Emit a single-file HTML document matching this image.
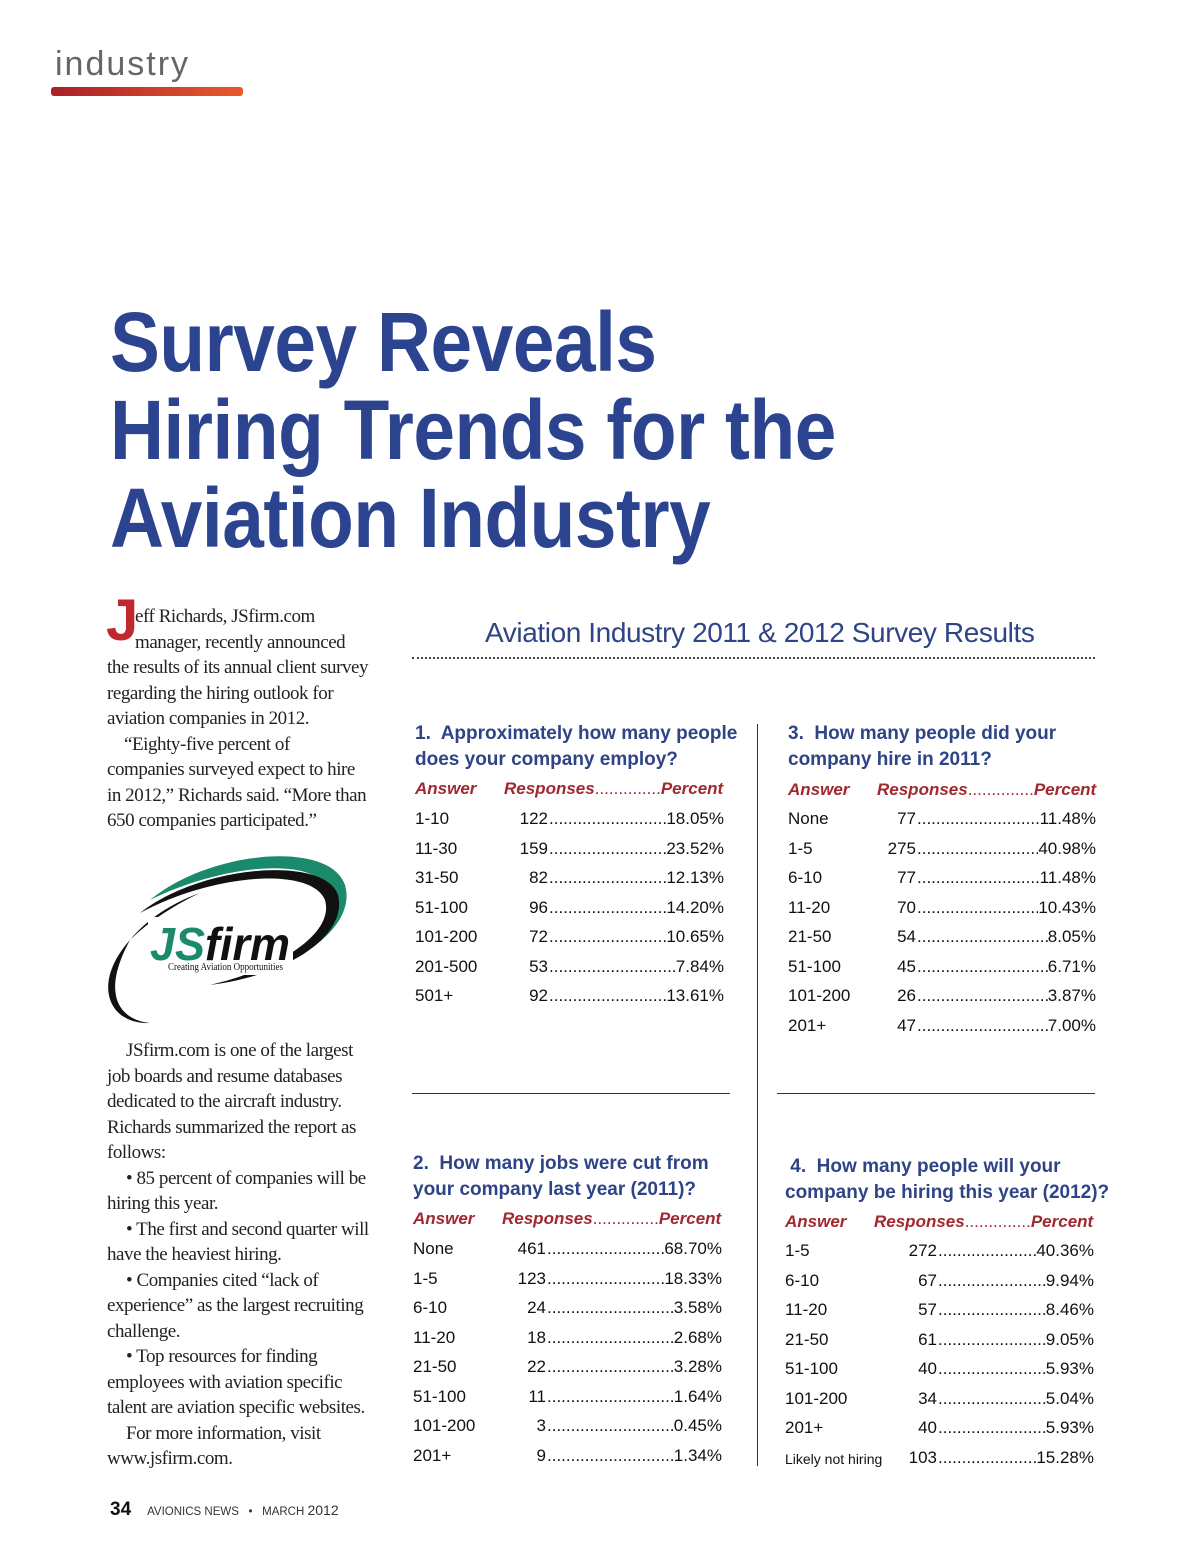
<!DOCTYPE html>
<html><head><meta charset="utf-8">
<style>
html,body{margin:0;padding:0;background:#fff;}
#page{position:relative;width:1200px;height:1553px;overflow:hidden;font-family:"Liberation Sans",sans-serif;}
.abs{position:absolute;white-space:nowrap;}
.title{font-family:"Liberation Sans",sans-serif;font-weight:bold;color:#2c4390;font-size:84px;line-height:88px;transform-origin:0 0;transform:scaleX(0.89);letter-spacing:-0.5px;}
.body{font-family:"Liberation Serif",serif;font-size:19px;line-height:25.5px;color:#222;letter-spacing:-0.45px;}
.q{font-family:"Liberation Sans",sans-serif;font-weight:bold;color:#2e4486;font-size:19px;line-height:26px;}
.hdr{font-family:"Liberation Sans",sans-serif;font-weight:bold;font-style:italic;color:#a0282e;font-size:17px;}
.row{font-family:"Liberation Sans",sans-serif;font-size:17px;color:#111;}
.line{display:flex;}
.line .dots{flex:1;overflow:hidden;}
</style></head>
<body>
<div id="page">
  <div class="abs" style="left:55px;top:44px;font-size:34px;color:#666;font-weight:300;letter-spacing:2px;line-height:40px;">industry</div>
  <div class="abs" style="left:51px;top:87px;width:192px;height:9px;border-radius:3px;background:linear-gradient(90deg,#a8202a,#e85a2c);"></div>

  <div class="abs title" style="left:110px;top:298px;">Survey Reveals</div>
  <div class="abs title" style="left:110px;top:386px;">Hiring Trends for the</div>
  <div class="abs title" style="left:110px;top:474px;">Aviation Industry</div>

  <div class="abs" style="left:106px;top:592px;font-family:'Liberation Sans',sans-serif;font-weight:bold;color:#c0282e;font-size:58px;line-height:58px;">J</div>
  <div class="abs body" style="left:107px;top:604px;">
    <div style="padding-left:28px">eff Richards, JSfirm.com</div>
    <div style="padding-left:28px">manager, recently announced</div>
    <div>the results of its annual client survey</div>
    <div>regarding the hiring outlook for</div>
    <div>aviation companies in 2012.</div>
    <div style="padding-left:17px">“Eighty-five percent of</div>
    <div>companies surveyed expect to hire</div>
    <div>in 2012,” Richards said. “More than</div>
    <div>650 companies participated.”</div>
  </div>

  <svg class="abs" style="left:100px;top:845px;" width="260" height="185" viewBox="0 0 260 185">
    <path d="M50 55 C110 5 230 -5 245 40 C255 75 215 110 160 128 C200 110 240 75 228 45 C215 10 120 20 50 55Z" fill="#1b8a6b"/>
    <path d="M40 68 C100 20 225 10 238 50 C248 90 190 130 110 140 C175 125 235 90 225 55 C210 20 110 30 40 68Z" fill="#111"/>
    <path d="M30 95 C -10 140 10 180 50 178 C20 175 0 150 30 95Z" fill="#111"/>
    <path d="M30 95 C 50 70 80 55 100 48 C70 62 45 80 30 95Z" fill="#111"/>
    <rect x="48" y="72" width="145" height="58" fill="#fff"/>
    <text x="50" y="115" font-family="Liberation Sans,sans-serif" font-weight="bold" font-style="italic" font-size="46" textLength="140" lengthAdjust="spacingAndGlyphs"><tspan fill="#1b8a6b">JS</tspan><tspan fill="#111">firm</tspan></text>
    <text x="68" y="125" font-family="Liberation Serif,serif" font-size="10" fill="#111" textLength="115" lengthAdjust="spacingAndGlyphs">Creating Aviation Opportunities</text>
  </svg>

  <div class="abs body" style="left:107px;top:1038px;">
    <div style="padding-left:19px">JSfirm.com is one of the largest</div>
    <div>job boards and resume databases</div>
    <div>dedicated to the aircraft industry.</div>
    <div>Richards summarized the report as</div>
    <div>follows:</div>
    <div style="padding-left:19px">• 85 percent of companies will be</div>
    <div>hiring this year.</div>
    <div style="padding-left:19px">• The first and second quarter will</div>
    <div>have the heaviest hiring.</div>
    <div style="padding-left:19px">• Companies cited “lack of</div>
    <div>experience” as the largest recruiting</div>
    <div>challenge.</div>
    <div style="padding-left:19px">• Top resources for finding</div>
    <div>employees with aviation specific</div>
    <div>talent are aviation specific websites.</div>
    <div style="padding-left:19px">For more information, visit</div>
    <div>www.jsfirm.com.</div>
  </div>

  <div class="abs" style="left:110px;top:1499px;font-size:11.5px;color:#333;">
    <span style="font-weight:bold;font-size:19px;color:#111;">34</span>&nbsp;&nbsp;&nbsp;&nbsp;&nbsp;AVIONICS NEWS&nbsp;&nbsp;&nbsp;•&nbsp;&nbsp;&nbsp;MARCH <span style="font-size:14px">2012</span>
  </div>

  <div class="abs" style="left:485px;top:617px;font-size:28px;color:#2e4486;letter-spacing:-0.4px;">Aviation Industry 2011 &amp; 2012 Survey Results</div>
  <div class="abs" style="left:412px;top:657px;width:683px;border-top:2px dotted #444;"></div>
  <div class="abs" style="left:757px;top:724px;width:1px;height:742px;background:#333;"></div>
  <div class="abs" style="left:412px;top:1093px;width:318px;height:1px;background:#333;"></div>
  <div class="abs" style="left:777px;top:1093px;width:318px;height:1px;background:#333;"></div>
</div>
<script>
const q1Answers=["1-10","11-30","31-50","51-100","101-200","201-500","501+"];
const q1Responses=[122,159,82,96,72,53,92];
const q1Percents=["18.05%","23.52%","12.13%","14.20%","10.65%","7.84%","13.61%"];
const q2Answers=["None","1-5","6-10","11-20","21-50","51-100","101-200","201+"];
const q2Responses=[461,123,24,18,22,11,3,9];
const q2Percents=["68.70%","18.33%","3.58%","2.68%","3.28%","1.64%","0.45%","1.34%"];
const q3Answers=["None","1-5","6-10","11-20","21-50","51-100","101-200","201+"];
const q3Responses=[77,275,77,70,54,45,26,47];
const q3Percents=["11.48%","40.98%","11.48%","10.43%","8.05%","6.71%","3.87%","7.00%"];
const q4Answers=["1-5","6-10","11-20","21-50","51-100","101-200","201+","Likely not hiring"];
const q4Responses=[272,67,57,61,40,34,40,103];
const q4Percents=["40.36%","9.94%","8.46%","9.05%","5.93%","5.04%","5.93%","15.28%"];

const page=document.getElementById('page');
function mk(name,txt,cls,x,y,extra){
  const d=document.createElement('div');
  d.className='abs '+cls;
  
  
  d.style.left=x+'px';d.style.top=y+'px';
  if(extra)d.style.cssText+=extra;
  d.innerHTML=txt;page.appendChild(d);return d;
}
function table(id,cfg,answers,resp,pcts){
  mk(id+'-question',cfg.q,'q',cfg.x,cfg.qy);
  mk(id+'-header','Answer','hdr',cfg.x,cfg.hy);
  mk(id+'-header-responses','Responses<span style="font-weight:normal;font-style:normal;color:#a0282e">..............</span>Percent','hdr',cfg.rx,cfg.hy);
  answers.forEach((a,i)=>{
    const y=cfg.y0+i*cfg.step;
    const small=a.length>10;
    mk(id+'-answer-'+i,a,'row',cfg.x,y,small?'font-size:14px;top:'+(y+3)+'px':'');
    mk(id+'-responses-'+i,String(resp[i]),'row',cfg.nr-40,y,'width:40px;text-align:right;');
    mk(id+'-leader-'+i,'<span class="dots">'+'.'.repeat(80)+'</span><span>'+pcts[i]+'</span>','row line',cfg.nr+1,y,'width:'+(cfg.pe-cfg.nr-1)+'px;');
  });
}
table('q1',{q:'1.&nbsp; Approximately how many people<br>does your company employ?',x:415,qy:721,hy:779,rx:504,y0:809,step:29.5,nr:548,pe:724},q1Answers,q1Responses,q1Percents);
table('q3',{q:'3.&nbsp; How many people did your<br>company hire in 2011?',x:788,qy:721,hy:780,rx:877,y0:809,step:29.5,nr:916,pe:1096},q3Answers,q3Responses,q3Percents);
table('q2',{q:'2.&nbsp; How many jobs were cut from<br>your company last year (2011)?',x:413,qy:1151,hy:1209,rx:502,y0:1239,step:29.5,nr:546,pe:722},q2Answers,q2Responses,q2Percents);
table('q4',{q:'&nbsp;4.&nbsp; How many people will your<br>company be hiring this year (2012)?',x:785,qy:1154,hy:1212,rx:874,y0:1241,step:29.5,nr:937,pe:1094},q4Answers,q4Responses,q4Percents);
</script>
</body></html>
